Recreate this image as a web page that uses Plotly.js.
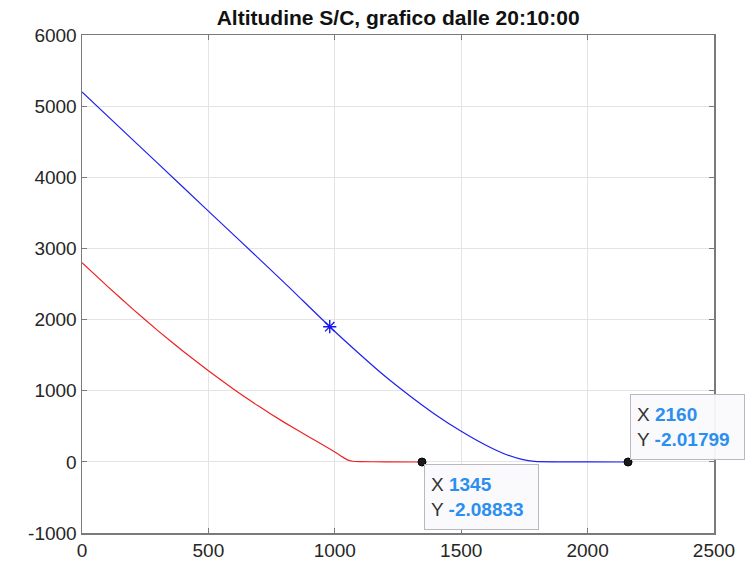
<!DOCTYPE html>
<html>
<head>
<meta charset="utf-8">
<script src="https://cdn.plot.ly/plotly-3.0.1.min.js"></script>
<style>html,body{margin:0;padding:0;background:#fff;}#chart{width:752px;height:565px;}</style>
</head>
<body>
<div id="chart"></div>
<script>
// Blue trajectory (S/C altitude)
const blueX = [0, 200, 400, 600, 800, 980, 1100, 1200, 1300, 1400, 1500, 1600, 1680, 1740, 1790, 1900, 2000, 2160];
const blueY = [5200, 4530, 3860, 3190, 2520, 1900, 1510, 1200, 920, 660, 430, 230, 100, 35, 6, 0, -1, -2.01799];
// Red trajectory
const redX = [0, 100, 200, 300, 400, 500, 600, 700, 800, 900, 950, 1000, 1030, 1050, 1070, 1100, 1200, 1345];
const redY = [2800, 2470, 2150, 1845, 1555, 1280, 1020, 780, 555, 345, 245, 140, 70, 28, 9, 3, 0.5, -2.08833];
// Asterisk marker on blue line
const starX = [980];
const starY = [1900];
// Data tips
const tipX = [1345, 2160];
const tipY = [-2.08833, -2.01799];
const tipLabelX = ['1345', '2160'];
const tipLabelY = ['-2.08833', '-2.01799'];

const xTicks = [0, 500, 1000, 1500, 2000, 2500];
const yTicks = [-1000, 0, 1000, 2000, 3000, 4000, 5000, 6000];

const traces = [
  {x: redX, y: redY, mode: 'lines', line: {color: '#ee2222', width: 1.2, shape: 'spline', smoothing: 0.4}, hoverinfo: 'skip'},
  {x: blueX, y: blueY, mode: 'lines', line: {color: '#2020ee', width: 1.2, shape: 'spline', smoothing: 0.6}, hoverinfo: 'skip'},
  {x: starX, y: starY, mode: 'markers', marker: {symbol: 'asterisk-open', size: 11, color: '#1515ee', line: {color: '#1515ee', width: 1.4}}, hoverinfo: 'skip'},
  {x: tipX, y: tipY, mode: 'markers', marker: {symbol: 'circle', size: 8, color: '#1a1a1a', line: {color: '#000', width: 1}}, hoverinfo: 'skip'}
];

const valColor = '#2a8ff0';
function tipText(i) {
  return '<span style="color:#333">X </span><span style="color:' + valColor + ';font-weight:bold">' + tipLabelX[i] + '</span>' +
         '<br><span style="color:#333">Y </span><span style="color:' + valColor + ';font-weight:bold">' + tipLabelY[i] + '</span>';
}

const tipFont = {family: 'Liberation Sans, Arial, sans-serif', size: 19, color: '#333'};
const annotations = [
  {x: tipX[0], y: tipY[0], xref: 'x', yref: 'y', text: tipText(0), showarrow: false,
   xanchor: 'left', yanchor: 'top', xshift: 2, yshift: -2, align: 'left', width: 101, height: 52,
   bgcolor: 'rgba(250,250,252,0.95)', bordercolor: '#b8b8c0', borderwidth: 1, borderpad: 6, font: tipFont},
  {x: tipX[1], y: tipY[1], xref: 'x', yref: 'y', text: tipText(1), showarrow: false,
   xanchor: 'left', yanchor: 'bottom', xshift: 2, yshift: 2, align: 'left', width: 101, height: 52,
   bgcolor: 'rgba(250,250,252,0.95)', bordercolor: '#b8b8c0', borderwidth: 1, borderpad: 6, font: tipFont}
];

const layout = {
  width: 752, height: 565,
  margin: {l: 82, r: 38, t: 35, b: 32},
  paper_bgcolor: '#fff', plot_bgcolor: '#fff',
  showlegend: false,
  font: {family: 'Liberation Sans, Arial, sans-serif', size: 19, color: '#262626'},
  title: {text: '<b>Altitudine S/C, grafico dalle 20:10:00</b>', x: 0.5295, xanchor: 'center', y: 0.968, yanchor: 'middle',
          font: {family: 'Liberation Sans, Arial, sans-serif', size: 21, color: '#111'}},
  xaxis: {range: [0, 2500], tickvals: xTicks, ticktext: xTicks.map(String), showgrid: true, gridcolor: '#e4e4e4', gridwidth: 1,
          zeroline: false, showline: true, linecolor: '#7a7a7a', linewidth: 1.5, mirror: 'ticks', ticks: 'inside', ticklen: 5,
          tickcolor: '#7a7a7a', tickfont: {size: 19, color: '#262626'}},
  yaxis: {range: [-1000, 6000], tickvals: yTicks, ticktext: yTicks.map(String), showgrid: true, gridcolor: '#e4e4e4', gridwidth: 1,
          zeroline: false, showline: true, linecolor: '#7a7a7a', linewidth: 1.5, mirror: 'ticks', ticks: 'inside', ticklen: 5,
          tickcolor: '#7a7a7a', tickfont: {size: 19, color: '#262626'}},
  annotations: annotations
};

Plotly.newPlot('chart', traces, layout, {displayModeBar: false, staticPlot: true});
</script>
</body>
</html>
